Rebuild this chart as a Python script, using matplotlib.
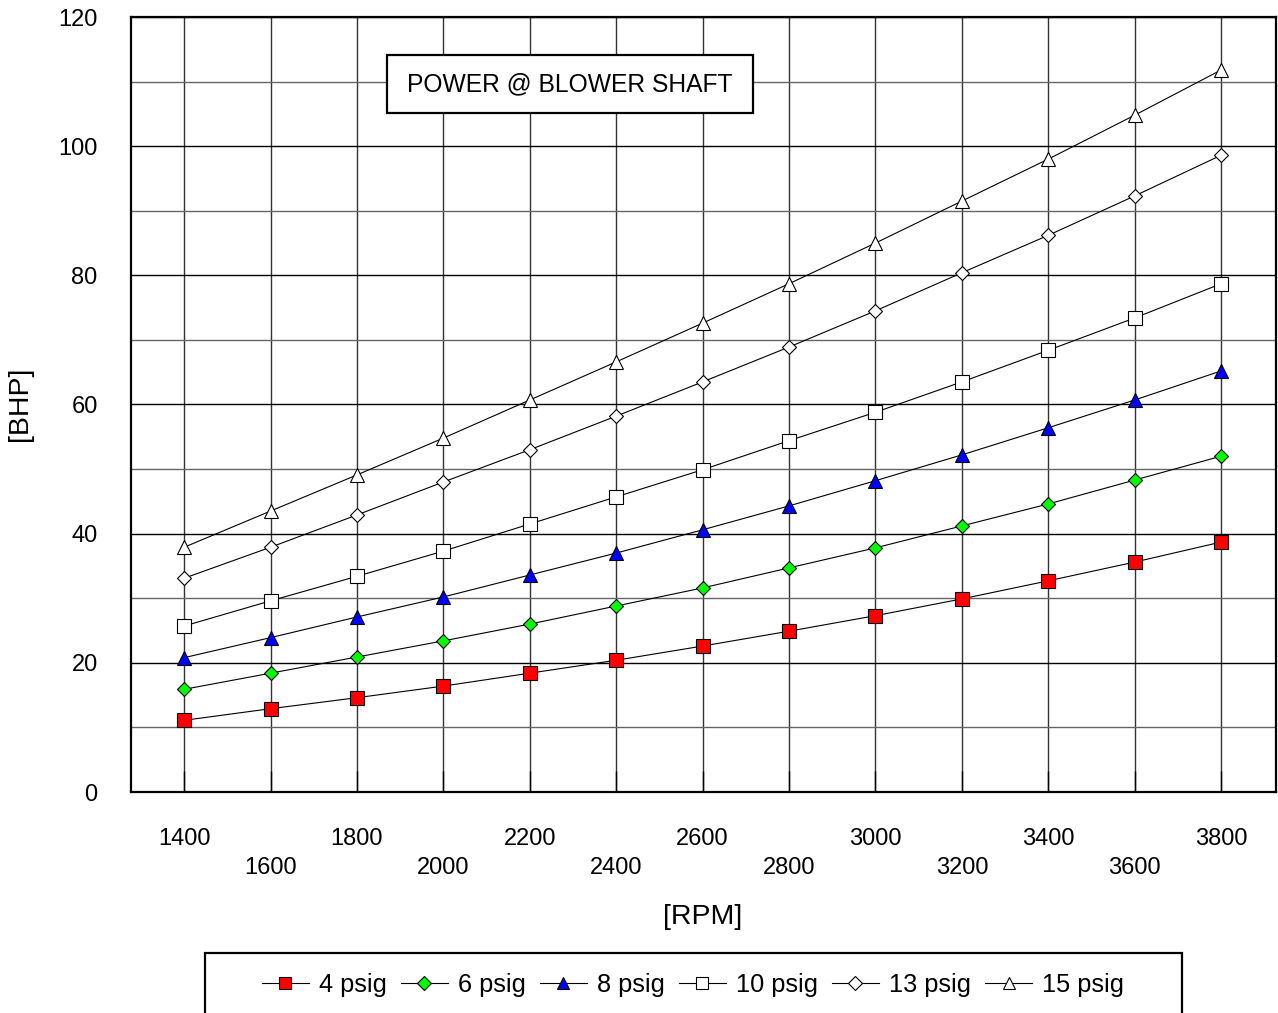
import matplotlib
matplotlib.use('Agg')
import matplotlib.pyplot as plt
from matplotlib.patches import Rectangle
import numpy as np

plt.rcParams['font.family'] = ['Liberation Sans', 'DejaVu Sans']

# datos
rpm = [1400, 1600, 1800, 2000, 2200, 2400, 2600, 2800, 3000, 3200, 3400, 3600, 3800]
p4 = [11.1, 12.9, 14.6, 16.4, 18.4, 20.4, 22.6, 24.9, 27.3, 29.9, 32.7, 35.6, 38.7]
p6 = [15.9, 18.4, 20.9, 23.4, 26.0, 28.8, 31.6, 34.7, 37.8, 41.2, 44.6, 48.3, 52.0]
p8 = [20.8, 23.9, 27.1, 30.2, 33.6, 37.0, 40.6, 44.3, 48.2, 52.2, 56.4, 60.7, 65.2]
p10 = [25.7, 29.6, 33.4, 37.3, 41.5, 45.7, 49.9, 54.4, 58.8, 63.5, 68.4, 73.4, 78.7]
p13 = [33.1, 37.9, 42.9, 48.0, 53.0, 58.2, 63.5, 68.9, 74.5, 80.4, 86.2, 92.3, 98.6]
p15 = [37.9, 43.5, 49.1, 54.8, 60.7, 66.6, 72.6, 78.7, 85.0, 91.5, 98.0, 104.8, 111.8]
etiquetas = ['4 psig', '6 psig', '8 psig', '10 psig', '13 psig', '15 psig']

W, H = 1278, 1013
fig = plt.figure(figsize=(W/100, H/100), dpi=100)

def fx(x): return x/W
def fy(y): return 1 - y/H

ax = fig.add_axes([fx(131), fy(792), fx(1276) - fx(131), fy(17) - fy(792)])

estilos = [
    dict(marker='s', ms=10, mfc='#FF0000'),
    dict(marker='D', ms=7.5, mfc='#00FF00'),
    dict(marker='^', ms=10, mfc='#0000FF'),
    dict(marker='s', ms=10, mfc='white'),
    dict(marker='D', ms=7.5, mfc='white'),
    dict(marker='^', ms=10, mfc='white'),
]
series = [p4, p6, p8, p10, p13, p15]
for s, e, lab in zip(series, estilos, etiquetas):
    ax.plot(rpm, s, color='black', lw=0.8, mec='black', mew=0.8, label=lab, zorder=3, **e)

ax.set_xlim(1277, 3927)
ax.set_ylim(0, 120)
ax.set_xticks(rpm)
ax.set_xticklabels([str(r) for r in rpm])
ax.set_yticks(np.arange(0, 121, 20))
ax.set_yticks(np.arange(10, 120, 20), minor=True)

ax.grid(which='major', axis='y', color='black', lw=1)
ax.grid(which='minor', axis='y', color='#666666', lw=1)
ax.grid(which='major', axis='x', color='#333333', lw=1)
ax.set_axisbelow(True)

ax.tick_params(axis='x', direction='in', length=15, width=1, pad=26, labelsize=17)
ax.tick_params(axis='y', which='both', length=0, pad=24, labelsize=17)
for i, t in enumerate(ax.xaxis.get_major_ticks()):
    if i % 2 == 1:
        t.set_pad(47)

for sp in ax.spines.values():
    sp.set_linewidth(1.6)

fig.text(fx(703), fy(917), '[RPM]', ha='center', va='center', fontsize=20.5)
fig.text(fx(20), fy(404), '[BHP]', ha='center', va='center', rotation=90, fontsize=20.5)

# recuadro del titulo
fig.patches.append(Rectangle((fx(387), fy(113)), fx(753) - fx(387), fy(55) - fy(113),
                             transform=fig.transFigure, facecolor='white',
                             edgecolor='black', lw=1.6, zorder=5))
fig.text(fx(570), fy(84), 'POWER @ BLOWER SHAFT', ha='center', va='center',
         fontsize=17.7, zorder=6)

# recuadro de la leyenda
fig.patches.append(Rectangle((fx(205), fy(1025)), fx(1182) - fx(205), fy(953) - fy(1025),
                             transform=fig.transFigure, facecolor='white',
                             edgecolor='black', lw=1.6, zorder=5))
h, l = ax.get_legend_handles_labels()
leg = fig.legend(h, l, loc='center', bbox_to_anchor=(fx(693), fy(985)), ncol=6,
                 frameon=False, fontsize=18.3, handlelength=1.85, handletextpad=0.4,
                 columnspacing=0.55, markerscale=0.9)
leg.set_zorder(6)

fig.savefig('out.png', dpi=100)
